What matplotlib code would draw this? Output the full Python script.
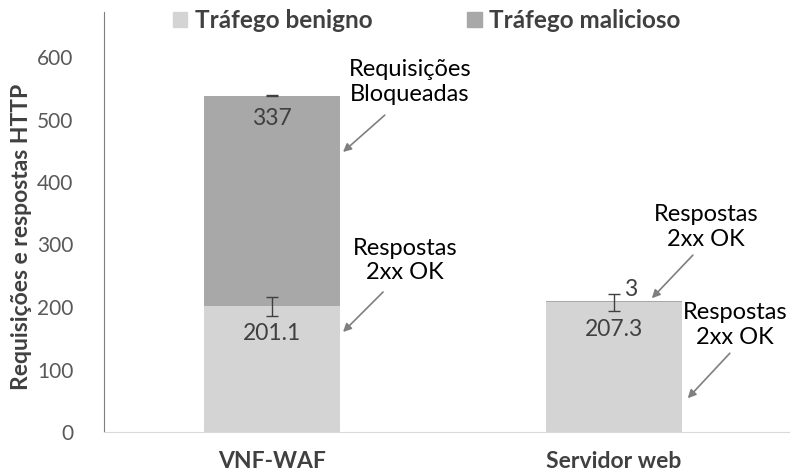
import numpy as np
import matplotlib
matplotlib.use("Agg")
import matplotlib.pyplot as plt
from matplotlib.patches import Patch

plt.rcParams['font.family'] = ['Lato', 'DejaVu Sans']

categories = ['VNF-WAF', 'Servidor web']
benign = [201.1, 207.3]
benign_err = [15, 14]
malicious = [337, 3]
malicious_err = [1, 0]
series_names = ['Tráfego benigno', 'Tráfego malicioso']

C_BEN, C_MAL = '#d4d4d4', '#a8a8a8'
TXT = '#404040'

fig = plt.figure(figsize=(7.9, 4.74), dpi=100)
ax = fig.add_axes([104/790, 42/474, 686/790, 420/474])
x = np.arange(len(categories))
w = 0.398

ax.bar(x, benign, w, color=C_BEN, label=series_names[0], zorder=2)
ax.bar(x, malicious, w, bottom=benign, color=C_MAL, label=series_names[1], zorder=2)
ax.errorbar(x, benign, yerr=benign_err, fmt='none', ecolor=TXT, elinewidth=1,
            capsize=4, capthick=1, zorder=3)
top = np.array(benign) + np.array(malicious)
ax.errorbar(x[:1], top[:1], yerr=malicious_err[:1], fmt='none', ecolor=TXT,
            elinewidth=1, capsize=4, capthick=1, zorder=3)

# value labels
ax.annotate(f'{malicious[0]:g}', (x[0], top[0]), xytext=(0, -23), textcoords='offset pixels',
            ha='center', va='center', fontsize=16.5, color=TXT)
ax.annotate(f'{malicious[1]:g}', (x[1], top[1]), xytext=(17, 11), textcoords='offset pixels',
            ha='center', va='center', fontsize=16.5, color=TXT)
for xi, b in zip(x, benign):
    ax.annotate(f'{b:g}', (xi, b), xytext=(0, -27), textcoords='offset pixels',
                ha='center', va='center', fontsize=16.5, color=TXT)

# callouts
notes = [('Requisições\nBloqueadas', (0.404, 560), (0.208, 448), (0.330, 507)),
         ('Respostas\n2xx OK', (0.389, 274), (0.208, 160), (0.325, 224)),
         ('Respostas\n2xx OK', (1.269, 328), (1.111, 214), (1.231, 283)),
         ('Respostas\n2xx OK', (1.354, 171), (1.216, 54), (1.339, 126))]
for txt, pos, tip, tail in notes:
    ax.text(pos[0], pos[1], txt, ha='center', va='center', fontsize=17,
            color='black', linespacing=1.2)
    ax.annotate('', xy=tip, xytext=tail,
                arrowprops=dict(arrowstyle='-|>', color='#7f7f7f', lw=1.2,
                                mutation_scale=12, shrinkA=0, shrinkB=0))

ax.set_xlim(-0.491, 1.515)
ax.set_ylim(0, 672)
ax.set_yticks(range(0, 601, 100))
ax.set_xticks(x)
ax.set_xticklabels(categories, fontsize=16.5, fontweight='bold', color=TXT)
ax.tick_params(axis='x', length=0, pad=14)
ax.tick_params(axis='y', length=0, pad=22, labelsize=15, labelcolor='#595959')
for s in ['top', 'right']:
    ax.spines[s].set_visible(False)
ax.spines['left'].set_color('#7f7f7f')
ax.spines['bottom'].set_color('#d9d9d9')
ax.set_ylabel('Requisições e respostas HTTP', fontsize=16.5, fontweight='bold',
              color=TXT)
ax.yaxis.set_label_coords(-72/686, 0.464)

handles = [Patch(color=C_BEN), Patch(color=C_MAL)]
fig.legend(handles, series_names, loc='center', bbox_to_anchor=(0.540, 0.957),
           ncol=2, frameon=False, handlelength=0.6, handleheight=0.6,
           handletextpad=0.3, columnspacing=3.9,
           prop={'size': 17.5, 'weight': 'bold'}, labelcolor=TXT)

fig.savefig('out.png', dpi=100)
